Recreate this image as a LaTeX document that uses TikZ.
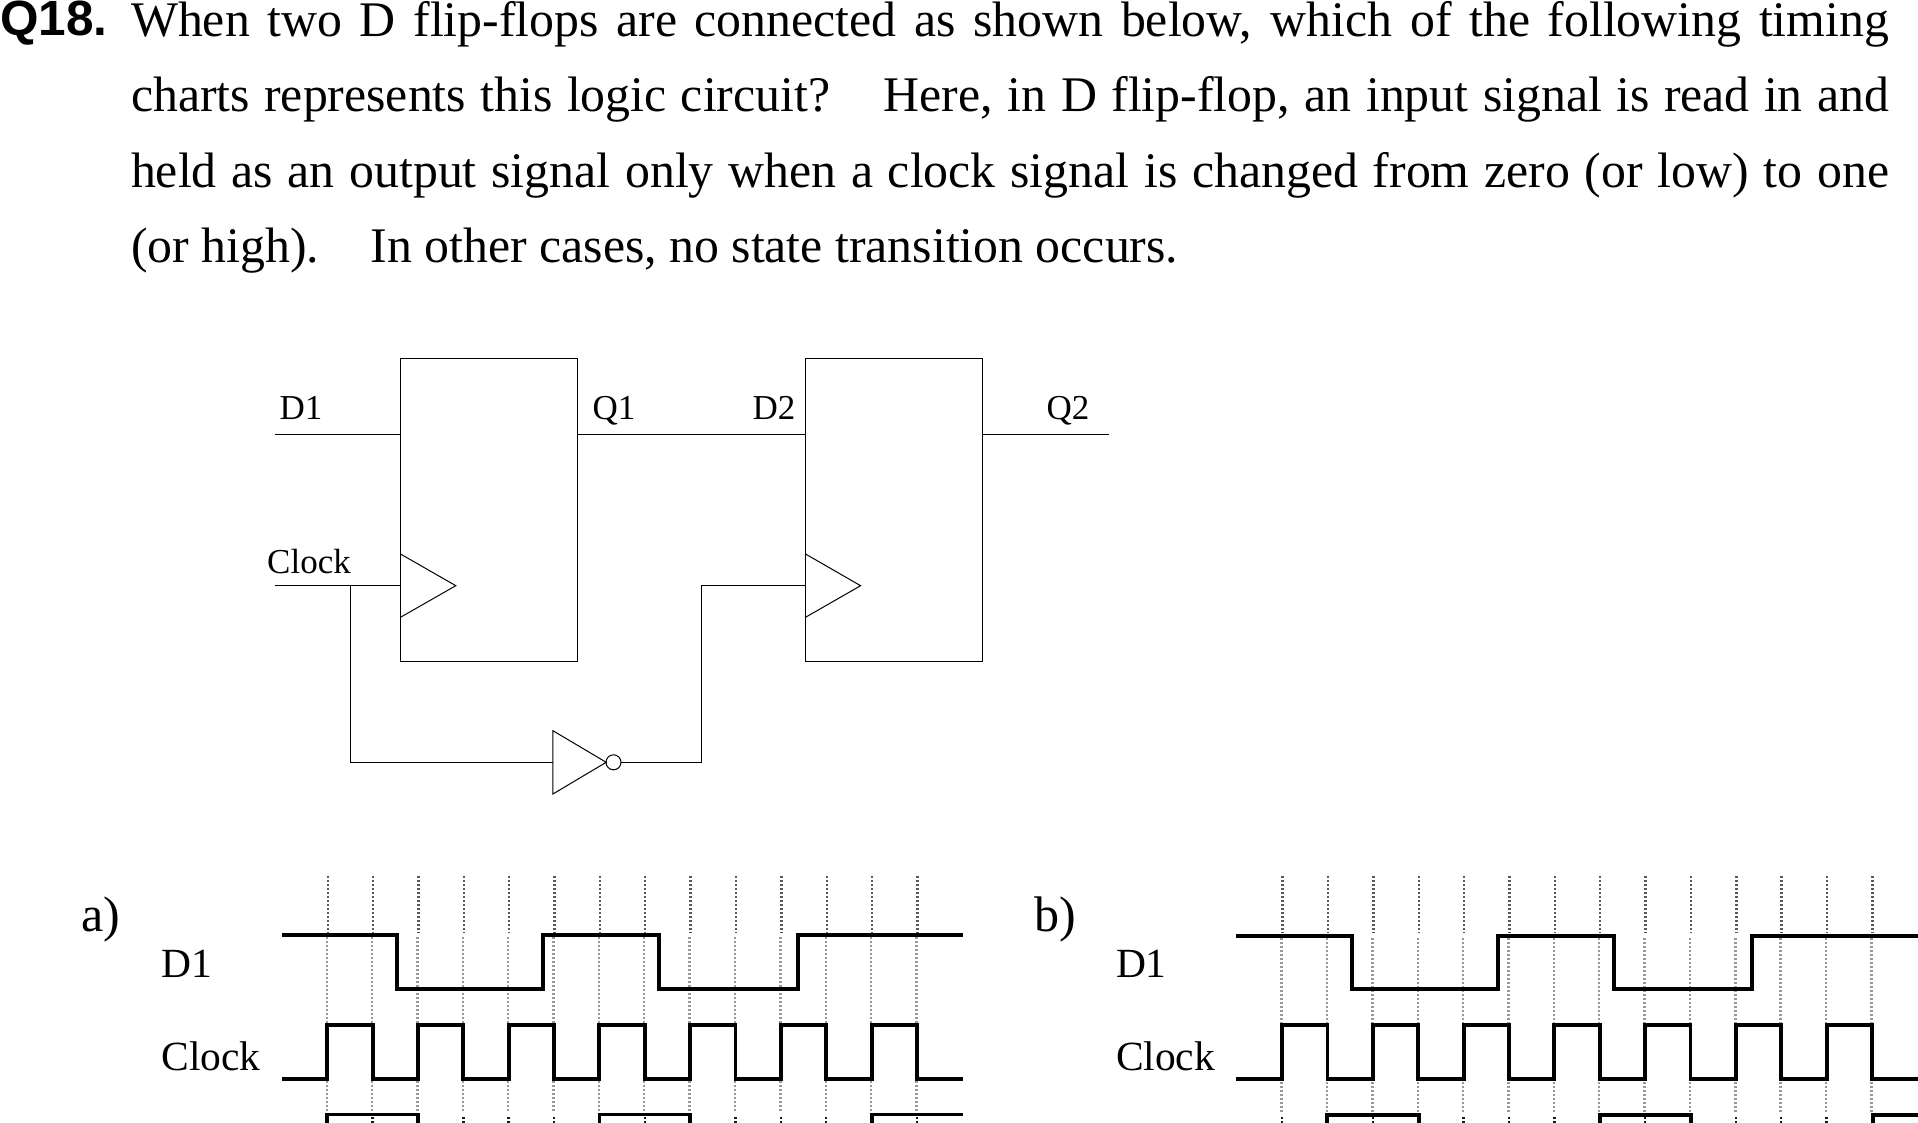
\documentclass[tikz,border=0pt]{standalone}
\usepackage{fontspec}
\setmainfont{Liberation Serif}
\newfontfamily\qfont{Liberation Sans}
\usepackage{tikz}
\usetikzlibrary{calc}

\tikzset{
 textline/.style={anchor=base west,inner sep=0pt,outer sep=0pt,font=\fontsize{49.8}{54}\selectfont},
 qlabel/.style={anchor=base west,inner sep=0pt,outer sep=0pt,font=\qfont\bfseries\fontsize{49.5}{54}\selectfont},
 cirlabel/.style={anchor=base,inner sep=0pt,outer sep=0pt,font=\fontsize{35}{40}\selectfont},
 chartlabel/.style={anchor=base west,inner sep=0pt,outer sep=0pt,font=\fontsize{41.5}{46}\selectfont},
 optlabel/.style={anchor=base west,inner sep=0pt,outer sep=0pt,font=\fontsize{50}{54}\selectfont},
 ffbox/.style={draw,line width=1pt,rectangle,minimum width=177pt,minimum height=303pt,inner sep=0pt,outer sep=0pt},
 wire/.style={line width=1pt},
 wave/.style={line width=3.9pt,line join=miter,line cap=butt},
 tick/.style={line width=2.4pt,dash pattern=on 2pt off 2pt,black!65},
 ticklight/.style={line width=2.4pt,dash pattern=on 2pt off 2pt,black!40},
 tickdark/.style={line width=2.4pt,dash pattern=on 2pt off 2pt,black!90}
}

\begin{document}
\begin{tikzpicture}[x=1pt,y=-1pt]
 \useasboundingbox (0,0) rectangle (1918,1123);
 \clip (0,0) rectangle (1918,1123);

 % question text
 \node[qlabel] (qnum) at (0,36) {Q18.};
 \node[textline] (line1) at (131,36.5) {\makebox[1758pt][s]{When two D flip-flops are connected as shown below, which of the following timing}};
 \node[textline] (line2) at (131,112) {\makebox[1758pt][s]{charts represents this logic circuit?\hspace{31pt} Here, in D flip-flop, an input signal is read in and}};
 \node[textline] (line3) at (131,187.5) {\makebox[1758pt][s]{held as an output signal only when a clock signal is changed from zero (or low) to one}};
 \node[textline] (line4) at (131,262.5) {(or high).\hspace{35pt} In other cases, no state transition occurs.};

 % flip-flops
 \node[ffbox] (ff1) at (489,509.5) {};
 \node[ffbox] (ff2) at (893.5,509.5) {};
 \coordinate (d1in) at (274.5,434);
 \coordinate (clkin) at (274.5,585.7);
 \coordinate (q2out) at (1108.5,434);
 \coordinate (clkbr) at (350.2,585.7);

 \draw[wire] (d1in) -- (d1in-|ff1.west);
 \draw[wire] (clkin) -- (clkin-|ff1.west);
 \draw[wire] (d1in-|ff1.east) -- (d1in-|ff2.west);
 \draw[wire] (d1in-|ff2.east) -- (q2out);

 % clock marks
 \draw[wire] (400.5,554) -- (455.8,585.7) -- (400.5,617.3);
 \draw[wire] (805.5,554) -- (860.6,585.7) -- (805.5,617.3);

 % inverter
 \coordinate (invin) at (552.9,762.3);
 \coordinate (invtip) at (606.2,762.3);
 \draw[wire] (invin|-0,730.7) -- (invtip) -- (invin|-0,794) -- cycle;
 \node[draw,circle,line width=1pt,minimum size=15pt,inner sep=0pt,outer sep=0pt] (bubble) at (613.5,762.3) {};
 \coordinate (invout) at (701,762.3);
 \draw[wire] (clkbr) -- (clkbr|-invin) -- (invin);
 \draw[wire] (bubble.east) -- (invout) -- (invout|-clkin) -- (clkin-|ff2.west);

 \node[cirlabel] (labd1) at (301,419.5) {D1};
 \node[cirlabel] (labq1) at (614,419.5) {Q1};
 \node[cirlabel] (labd2) at (774,419.5) {D2};
 \node[cirlabel] (labq2) at (1068,419.5) {Q2};
 \node[cirlabel] (labclk) at (309,573) {Clock};

 %%%%%%%%%%%%%%%%%%%%%%%%%%%%%%%%%%%
 % chart a)
 \foreach \i in {0,...,13} {
  \draw[tick] (327.7+45.37*\i,876) -- (327.7+45.37*\i,933);
  \draw[ticklight] (326.7+45.37*\i,937) -- (326.7+45.37*\i,1112);
  \draw[tickdark] (327.2+45.37*\i,1117) -- (327.2+45.37*\i,1123);
 }
 \node[optlabel] (opta) at (81,931.7) {a)};
 \node[chartlabel] (d1a) at (161.5,977.7) {D1};
 \node[chartlabel] (clka) at (161.5,1070) {Clock};
 \draw[wave] (282,935) -- (397.3,935) -- (397.3,988.7) -- (543.4,988.7) -- (543.4,935) -- (658.8,935) -- (658.8,988.7) -- (797.8,988.7) -- (797.8,935) -- (963,935);
 \draw[wave] (282,1079) \foreach \i in {0,2,...,12} {-- (327.2+45.37*\i,1079) -- (327.2+45.37*\i,1025.3) -- (372.57+45.37*\i,1025.3) -- (372.57+45.37*\i,1079)} -- (963,1079);
 \draw[wave] (327.2,1130) -- (327.2,1114.5) -- (418,1114.5) -- (418,1130);
 \draw[wave] (599.5,1130) -- (599.5,1114.5) -- (690,1114.5) -- (690,1130);
 \draw[wave] (871.8,1130) -- (871.8,1114.5) -- (963,1114.5);

 % chart b)
 \foreach \i in {0,...,13} {
  \draw[tick] (1282.6+45.37*\i,876) -- (1282.6+45.37*\i,933);
  \draw[ticklight] (1281.6+45.37*\i,938) -- (1281.6+45.37*\i,1112);
  \draw[tickdark] (1282.1+45.37*\i,1117) -- (1282.1+45.37*\i,1123);
 }
 \node[optlabel] (optb) at (1034,931.7) {b)};
 \node[chartlabel] (d1b) at (1116,977.7) {D1};
 \node[chartlabel] (clkb) at (1116,1070) {Clock};
 \draw[wave] (1236,936) -- (1352.3,936) -- (1352.3,989) -- (1498,989) -- (1498,936) -- (1614,936) -- (1614,989) -- (1752,989) -- (1752,936) -- (1918,936);
 \draw[wave] (1236,1079) \foreach \i in {0,2,...,12} {-- (1282.1+45.37*\i,1079) -- (1282.1+45.37*\i,1025.3) -- (1327.47+45.37*\i,1025.3) -- (1327.47+45.37*\i,1079)} -- (1918,1079);
 \draw[wave] (1327.2,1130) -- (1327.2,1115) -- (1419,1115) -- (1419,1130);
 \draw[wave] (1600,1130) -- (1600,1115) -- (1691,1115) -- (1691,1130);
 \draw[wave] (1872.8,1130) -- (1872.8,1115) -- (1918,1115);

\end{tikzpicture}
\end{document}
